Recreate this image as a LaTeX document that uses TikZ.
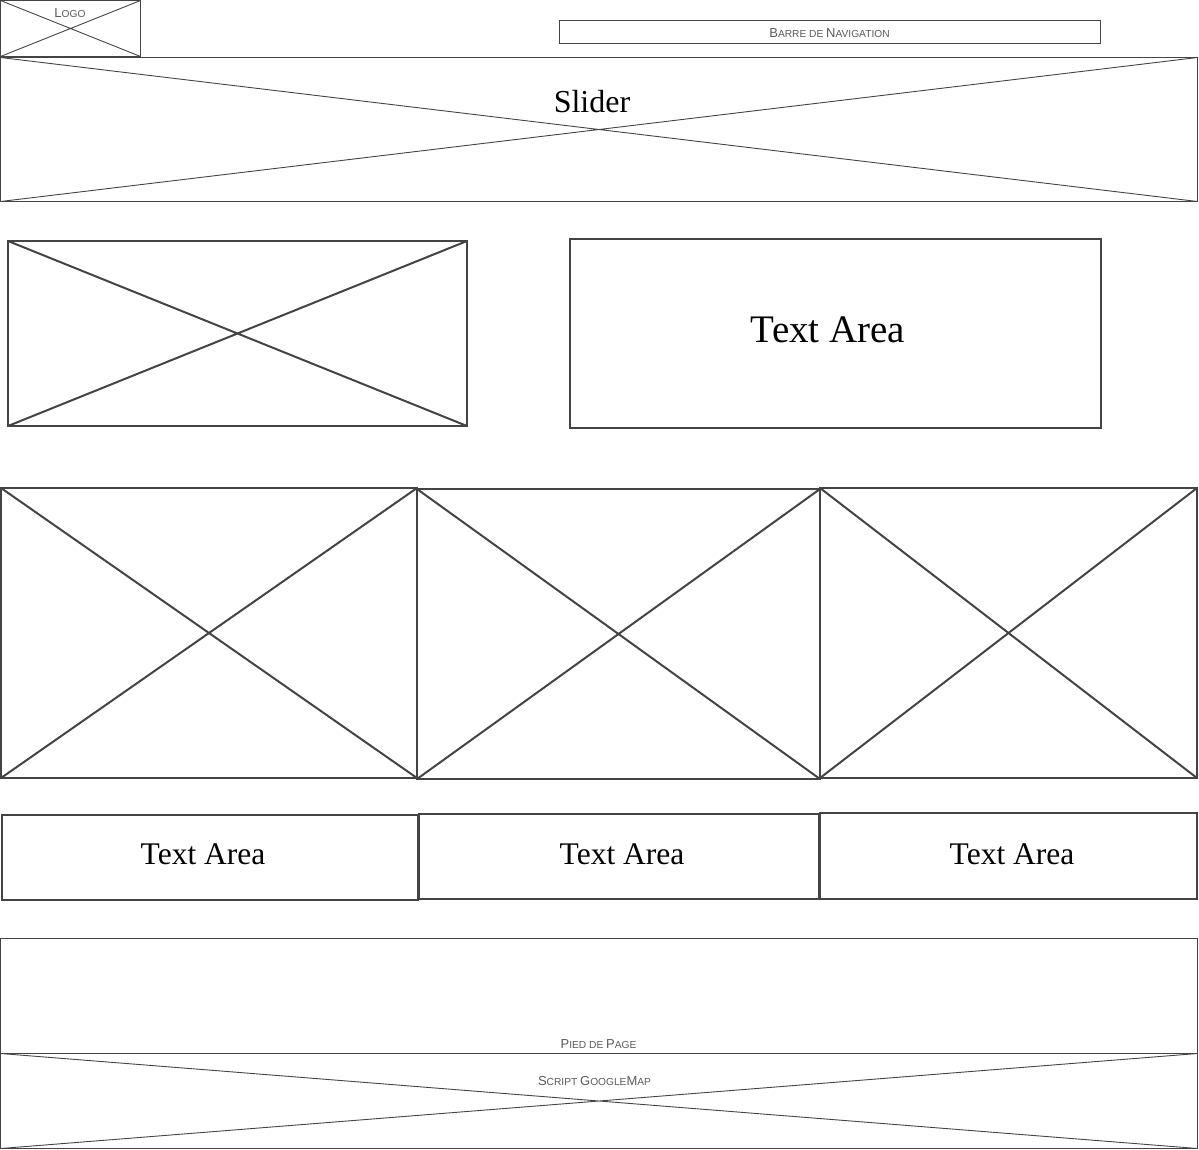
\documentclass[tikz,border=0pt]{standalone}
\usepackage{fontspec}
\setmainfont{Liberation Serif}
\newfontfamily\arialf{Liberation Sans}
\definecolor{ln}{HTML}{444444}
\definecolor{lbl}{HTML}{5A5A5A}
\newcommand\capL[1]{{\fontsize{13}{15}\selectfont #1}}
\newcommand\smL[1]{{\fontsize{10.2}{12}\selectfont #1}}
\begin{document}
\begin{tikzpicture}[x=1pt,y=-1pt,
  thinbox/.style={draw=ln, line width=1pt, inner sep=0, outer sep=0, anchor=north west, rectangle},
  thickbox/.style={draw=ln, line width=2pt, inner sep=0, outer sep=0, anchor=north west, rectangle},
  thincross/.style={draw=ln, line width=0.9pt},
  thickcross/.style={draw=ln, line width=2pt},
  small/.style={font=\arialf, text=lbl, inner sep=0},
  big/.style={font=\fontsize{39}{44}\selectfont, text=black, inner sep=0},
  mid/.style={font=\fontsize{31.5}{36}\selectfont, text=black, inner sep=0}]
\useasboundingbox (0,0) rectangle (1199,1149);
% Logo
\node[thinbox, minimum width=140, minimum height=56] (logo) at (0.5,0.5) {};
\draw[thincross] (logo.north west) -- (logo.south east) (logo.north east) -- (logo.south west);
\node[small] (logot) at (70,13) {\capL{L}\smL{OGO}};
% Navigation
\node[thinbox, minimum width=541, minimum height=23] (nav) at (559.5,20.5) {};
\node[small] (navt) at (829.5,33) {\capL{B}\smL{ARRE DE }\capL{N}\smL{AVIGATION}};
% Slider
\node[thinbox, minimum width=1197, minimum height=144] (slider) at (0.5,57.5) {};
\draw[thincross] (slider.north west) -- (slider.south east) (slider.north east) -- (slider.south west);
\node[inner sep=0, font=\fontsize{32}{36}\selectfont] (slidert) at (592,102) {Slider};
% Image 1
\node[thickbox, minimum width=459, minimum height=185] (img1) at (8,241) {};
\draw[thickcross] (img1.north west) -- (img1.south east) (img1.north east) -- (img1.south west);
% Text Area 1
\node[thickbox, minimum width=531, minimum height=189] (ta1) at (570,239) {};
\node[big] (ta1t) at (828,330) {Text Area};
% three images
\node[thickbox, minimum width=416, minimum height=290] (im2) at (1,488) {};
\draw[thickcross] (im2.north west) -- (im2.south east) (im2.north east) -- (im2.south west);
\node[thickbox, minimum width=403, minimum height=290] (im3) at (417,489) {};
\draw[thickcross] (im3.north west) -- (im3.south east) (im3.north east) -- (im3.south west);
\node[thickbox, minimum width=377, minimum height=290] (im4) at (820,488) {};
\draw[thickcross] (im4.north west) -- (im4.south east) (im4.north east) -- (im4.south west);
% three text areas
\node[thickbox, minimum width=416, minimum height=85] (ta2) at (2,814.5) {};
\node[mid] (ta2t) at (203,854) {Text Area};
\node[thickbox, minimum width=400, minimum height=85] (ta3) at (419,814) {};
\node[mid] (ta3t) at (622,854) {Text Area};
\node[thickbox, minimum width=377, minimum height=86] (ta4) at (820,813) {};
\node[mid] (ta4t) at (1012,854) {Text Area};
% Footer
\node[thinbox, minimum width=1197, minimum height=115] (foot) at (0.5,938.5) {};
\node[small] (foott) at (598.5,1044) {\capL{P}\smL{IED DE }\capL{P}\smL{AGE}};
% GoogleMap
\node[thinbox, minimum width=1197, minimum height=95] (map) at (0.5,1053.5) {};
\draw[thincross] (map.north west) -- (map.south east) (map.north east) -- (map.south west);
\node[small] (mapt) at (594.5,1081) {\capL{S}\smL{CRIPT }\capL{G}\smL{OOGLE}\capL{M}\smL{AP}};
\end{tikzpicture}
\end{document}
